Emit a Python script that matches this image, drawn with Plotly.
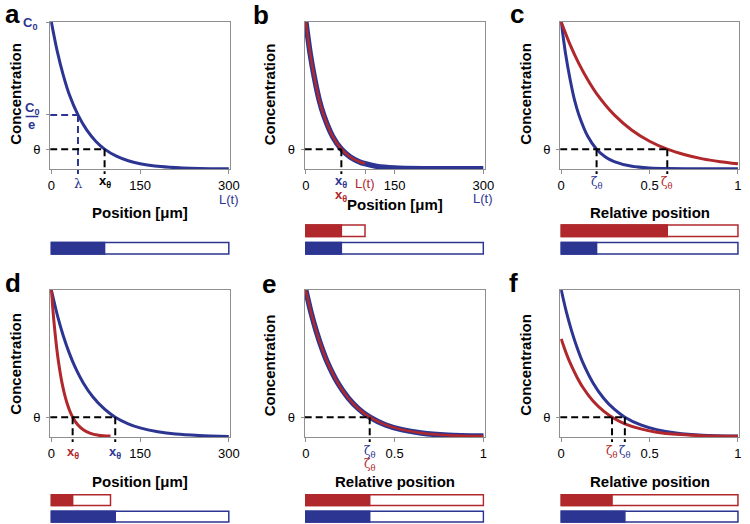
import plotly.graph_objects as go

W, H = 750, 524
BLUE = '#2C3591'
RED = '#B0282C'
GRAY = '#8F8F8F'
SANS = 'Liberation Sans'
SERIF = 'DejaVu Serif'

theta = 0.135          # threshold concentration (relative to C0)
inv_e = 0.368          # C0/e level

# ---------------- panel a ----------------
a_x = [0, 10, 20, 30, 45, 60, 75, 90, 110, 130, 150, 175, 200, 250, 300]
a_blue = [1.0, 0.80, 0.64, 0.51, 0.368, 0.264, 0.189, 0.135, 0.087, 0.056, 0.036, 0.020, 0.012, 0.004, 0.001]
a_lambda = 45
a_xtheta_blue = 90
a_bar_len = [300]
a_bar_fill = [90]

# ---------------- panel b ----------------
b_x_blue = [0, 7.5, 15, 22.5, 30, 45, 60, 75, 90, 100, 120, 150, 200, 250, 300]
b_blue = [1.0, 0.78, 0.61, 0.47, 0.368, 0.223, 0.135, 0.082, 0.050, 0.036, 0.018, 0.007, 0.002, 0.001, 0.001]
b_x_red = [0, 7.5, 15, 22.5, 30, 45, 60, 75, 90, 100]
b_red = [1.0, 0.78, 0.61, 0.47, 0.368, 0.223, 0.135, 0.082, 0.050, 0.036]
b_xtheta_blue = 60
b_xtheta_red = 60
b_L_red = 100
b_bar_len = [100, 300]      # red, blue
b_bar_fill = [60, 60]

# ---------------- panel c ----------------
c_x_blue = [0, 0.025, 0.05, 0.075, 0.1, 0.15, 0.2, 0.25, 0.3, 0.4, 0.5, 0.6, 0.8, 1.0]
c_blue = [1.0, 0.78, 0.61, 0.47, 0.368, 0.223, 0.135, 0.082, 0.050, 0.018, 0.007, 0.003, 0.001, 0.001]
c_x_red = [0, 0.05, 0.1, 0.15, 0.2, 0.3, 0.4, 0.5, 0.6, 0.7, 0.8, 0.9, 1.0]
c_red = [1.0, 0.846, 0.717, 0.607, 0.513, 0.368, 0.264, 0.189, 0.135, 0.097, 0.069, 0.050, 0.036]
c_zeta_blue = 0.2
c_zeta_red = 0.6
c_bar_len = [1, 1]
c_bar_fill = [0.6, 0.2]

# ---------------- panel d ----------------
d_x_blue = [0, 10, 20, 30, 40, 54, 70, 90, 108, 130, 150, 180, 210, 250, 300]
d_blue = [1.0, 0.831, 0.690, 0.574, 0.477, 0.368, 0.274, 0.189, 0.135, 0.090, 0.062, 0.036, 0.020, 0.010, 0.004]
d_x_red = [0, 4, 8, 12, 18, 24, 30, 36, 45, 54, 65, 80, 100]
d_red = [1.0, 0.801, 0.641, 0.513, 0.368, 0.264, 0.189, 0.135, 0.082, 0.050, 0.027, 0.012, 0.006]
d_xtheta_red = 36
d_xtheta_blue = 108
d_bar_len = [100, 300]
d_bar_fill = [36, 108]

# ---------------- panel e ----------------
e_x = [0, 0.03, 0.06, 0.09, 0.12, 0.18, 0.24, 0.3, 0.36, 0.45, 0.54, 0.65, 0.8, 1.0]
e_blue = [1.0, 0.846, 0.717, 0.607, 0.513, 0.368, 0.264, 0.189, 0.135, 0.082, 0.050, 0.027, 0.012, 0.006]
e_red = [1.0, 0.846, 0.717, 0.607, 0.513, 0.368, 0.264, 0.189, 0.135, 0.082, 0.050, 0.027, 0.012, 0.006]
e_zeta = 0.36
e_bar_len = [1, 1]
e_bar_fill = [0.36, 0.36]

# ---------------- panel f ----------------
f_x = [0, 0.03, 0.06, 0.09, 0.12, 0.18, 0.24, 0.3, 0.36, 0.45, 0.54, 0.65, 0.8, 1.0]
f_blue = [1.0, 0.846, 0.717, 0.607, 0.513, 0.368, 0.264, 0.189, 0.135, 0.082, 0.050, 0.027, 0.012, 0.006]
f_red = [0.667, 0.564, 0.478, 0.405, 0.342, 0.245, 0.176, 0.126, 0.090, 0.055, 0.033, 0.018, 0.009, 0.005]
f_zeta_red = 0.2875
f_zeta_blue = 0.36
f_bar_len = [1, 1]
f_bar_fill = [0.2875, 0.36]

pos_ticks = [0, 150, 300]
pos_ticktext = ['0', '150', '300']
rel_ticks = [0, 0.5, 1]
rel_ticktext = ['0', '0.5', '1']


def px(p):
    return p / W


def py(p):
    return 1 - p / H


# panel geometry (pixel boxes) -- layout only
boxes = {
    1: (48, 231, 22, 169), 2: (307, 490, 22, 169), 3: (567, 749, 22, 169),
    4: (48, 231, 290, 437), 5: (307, 490, 290, 437), 6: (567, 749, 290, 437),
}
pos_rng = [-2, 302]
rel_rng = [-0.006, 1.006]
y_rng = [0, 1.0]

fig = go.Figure()
layout = dict(width=W, height=H, margin=dict(l=0, r=0, t=0, b=0),
              paper_bgcolor='white', plot_bgcolor='white', showlegend=False,
              barmode='overlay', font=dict(family=SANS, color='black', size=13))

panel_kind = {1: 'pos', 2: 'pos', 3: 'rel', 4: 'pos', 5: 'rel', 6: 'rel'}
extra_ticks = {2: [b_L_red]}
ytick_sets = {1: ([theta, inv_e, 1.0], ['θ', '', ''])}

for i, (x0, x1, y0, y1) in boxes.items():
    kind = panel_kind[i]
    tv = list(pos_ticks if kind == 'pos' else rel_ticks)
    tt = list(pos_ticktext if kind == 'pos' else rel_ticktext)
    for v in extra_ticks.get(i, []):
        tv.append(v)
        tt.append('')
    layout[f'xaxis{i}'] = dict(domain=[px(x0), px(x1)], anchor=f'y{i}',
                               range=pos_rng if kind == 'pos' else rel_rng,
                               showline=True, mirror=True, linecolor=GRAY, linewidth=1,
                               ticks='outside', ticklen=4, tickcolor=GRAY, tickwidth=1,
                               tickvals=tv, ticktext=tt, showgrid=False, zeroline=False,
                               tickfont=dict(size=13, family=SANS, color='black'))
    yv, yt = ytick_sets.get(i, ([theta], ['θ']))
    layout[f'yaxis{i}'] = dict(domain=[py(y1), py(y0)], anchor=f'x{i}', range=y_rng,
                               showline=True, mirror=True, linecolor=GRAY, linewidth=1,
                               ticks='outside', ticklen=3, tickcolor=GRAY, tickwidth=1,
                               tickvals=yv, ticktext=yt, showgrid=False, zeroline=False,
                               ticklabelstandoff=3,
                               tickfont=dict(size=13, family=SANS, color='black'))
    # bar axis
    if y0 < 200:
        bdom = [py(257), py(222)]
        brng = [-0.5, 1.5]
    else:
        bdom = [py(524), py(492)]
        brng = [-0.45, 1.5]
    layout[f'yaxis{i+6}'] = dict(domain=bdom, anchor=f'x{i}', range=brng, visible=False,
                                 fixedrange=True)


def curve(i, x, y, color, width):
    fig.add_trace(go.Scatter(x=x, y=y, mode='lines', xaxis=f'x{i}', yaxis=f'y{i}',
                             line=dict(color=color, width=width, shape='spline', smoothing=0.8),
                             hoverinfo='skip'))


curve(1, a_x, a_blue, BLUE, 3)
curve(2, b_x_blue, b_blue, BLUE, 5.5)
curve(2, b_x_red, b_red, RED, 2.5)
curve(3, c_x_blue, c_blue, BLUE, 3)
curve(3, c_x_red, c_red, RED, 3)
curve(4, d_x_blue, d_blue, BLUE, 3)
curve(4, d_x_red, d_red, RED, 3)
curve(5, e_x, e_blue, BLUE, 5.5)
curve(5, e_x, e_red, RED, 2.5)
curve(6, f_x, f_blue, BLUE, 3)
curve(6, f_x, f_red, RED, 3)


def bars(i, lens, fills, colors, rows):
    for L, F, col, r in zip(lens, fills, colors, rows):
        fig.add_trace(go.Bar(x=[L], y=[r], orientation='h', width=[0.66],
                             xaxis=f'x{i}', yaxis=f'y{i+6}',
                             marker=dict(color='white', line=dict(color=col, width=1.5)),
                             hoverinfo='skip'))
        fig.add_trace(go.Bar(x=[F], y=[r], orientation='h', width=[0.66],
                             xaxis=f'x{i}', yaxis=f'y{i+6}',
                             marker=dict(color=col, line=dict(color=col, width=1.5)),
                             hoverinfo='skip'))


bars(1, a_bar_len, a_bar_fill, [BLUE], [0])
bars(2, b_bar_len, b_bar_fill, [RED, BLUE], [1, 0])
bars(3, c_bar_len, c_bar_fill, [RED, BLUE], [1, 0])
bars(4, d_bar_len, d_bar_fill, [RED, BLUE], [1, 0])
bars(5, e_bar_len, e_bar_fill, [RED, BLUE], [1, 0])
bars(6, f_bar_len, f_bar_fill, [RED, BLUE], [1, 0])

shapes = []
DASH = '7px,4px'


def ypaper(i, v):
    d0, d1 = layout[f'yaxis{i}']['domain']
    return d0 + (v - y_rng[0]) / (y_rng[1] - y_rng[0]) * (d1 - d0)


def hline(i, xend, yv, color='black'):
    xr = layout[f'xaxis{i}']['range']
    shapes.append(dict(type='line', xref=f'x{i}', yref=f'y{i}', x0=xr[0], x1=xend, y0=yv, y1=yv,
                       line=dict(color=color, width=2, dash=DASH), layer='above'))


def vline(i, xv, yv, color='black'):
    bottom = layout[f'yaxis{i}']['domain'][0]
    shapes.append(dict(type='line', xref=f'x{i}', yref='paper', x0=xv, x1=xv,
                       y0=ypaper(i, yv), y1=bottom - 5 / H,
                       line=dict(color=color, width=2, dash=DASH), layer='above'))


hline(1, a_lambda, inv_e, BLUE)
vline(1, a_lambda, inv_e, BLUE)
hline(1, a_xtheta_blue, theta)
vline(1, a_xtheta_blue, theta)
hline(2, b_xtheta_blue, theta)
vline(2, b_xtheta_blue, theta)
hline(3, c_zeta_red, theta)
vline(3, c_zeta_blue, theta)
vline(3, c_zeta_red, theta)
hline(4, d_xtheta_blue, theta)
vline(4, d_xtheta_red, theta)
vline(4, d_xtheta_blue, theta)
hline(5, e_zeta, theta)
vline(5, e_zeta, theta)
hline(6, f_zeta_blue, theta)
vline(6, f_zeta_red, theta)
vline(6, f_zeta_blue, theta)

# fraction bar of C0/e
shapes.append(dict(type='line', xref='paper', yref='paper', x0=px(23), x1=px(36),
                   y0=py(116.5), y1=py(116.5), line=dict(color=BLUE, width=1.5)))

ann = []


def txt(text, x, y, size=13, color='black', family=SANS, xref='paper', xa='center', ya='middle', angle=0):
    ann.append(dict(text=text, x=x, y=y, xref=xref, yref='paper', showarrow=False,
                    xanchor=xa, yanchor=ya, textangle=angle,
                    font=dict(size=size, color=color, family=family)))


XT = 'x<sub>θ</sub>'
ZT = 'ζ<sub>θ</sub>'

# panel letters
for lab, xx, yy in [('a', 0, 14), ('b', 252, 15), ('c', 514, 14), ('d', 0, 283), ('e', 262, 284), ('f', 513, 283)]:
    txt(f'<b>{lab}</b>', px(xx), py(yy), size=26, xa='left')

# y titles
for xx, yy in [(12, 94), (271, 94), (531, 94), (12, 364), (271, 365), (531, 365)]:
    txt('<b>Concentration</b>', px(xx), py(yy), size=15, angle=-90)

# x titles
for i, yy, t in [(1, 212, 'Position [μm]'), (2, 204, 'Position [μm]'), (3, 212, 'Relative position'),
                 (4, 481, 'Position [μm]'), (5, 481, 'Relative position'), (6, 481, 'Relative position')]:
    x0, x1 = boxes[i][0], boxes[i][1]
    txt(f'<b>{t}</b>', px((x0 + x1) / 2), py(yy), size=15)

# panel a special labels
txt('<b>C<sub>0</sub></b>', px(37), py(24), color=BLUE, xa='right')
txt('<b>C<sub>0</sub></b>', px(29.5), py(109), color=BLUE)
txt('<b>e</b>', px(29.5), py(124), color=BLUE)
txt('λ', a_lambda, py(183), color=BLUE, family=SERIF, xref='x1')
txt(f'<b>{XT}</b>', a_xtheta_blue, py(182), xref='x1')
txt('L(t)', 300, py(199), color=BLUE, xref='x1')

# panel b
txt(f'<b>{XT}</b>', b_xtheta_blue, py(182), color=BLUE, xref='x2')
txt(f'<b>{XT}</b>', b_xtheta_red, py(195), color=RED, xref='x2')
txt('L(t)', b_L_red, py(183), color=RED, xref='x2')
txt('L(t)', 300, py(198), color=BLUE, xref='x2')

# panel c
txt(ZT, c_zeta_blue, py(183), color=BLUE, family=SERIF, size=12, xref='x3')
txt(ZT, c_zeta_red, py(183), color=RED, family=SERIF, size=12, xref='x3')

# panel d
txt(f'<b>{XT}</b>', d_xtheta_red, py(452), color=RED, xref='x4')
txt(f'<b>{XT}</b>', d_xtheta_blue, py(452), color=BLUE, xref='x4')

# panel e
txt(ZT, e_zeta, py(452), color=BLUE, family=SERIF, size=12, xref='x5')
txt(ZT, e_zeta, py(465), color=RED, family=SERIF, size=12, xref='x5')

# panel f
txt(ZT, f_zeta_red, py(452), color=RED, family=SERIF, size=12, xref='x6')
txt(ZT, f_zeta_blue, py(452), color=BLUE, family=SERIF, size=12, xref='x6')

layout['shapes'] = shapes
layout['annotations'] = ann
fig.update_layout(**layout)
fig.write_html('out.html', config={'displayModeBar': False},
               post_script="document.body.style.margin='0';document.body.style.overflow='hidden';")
